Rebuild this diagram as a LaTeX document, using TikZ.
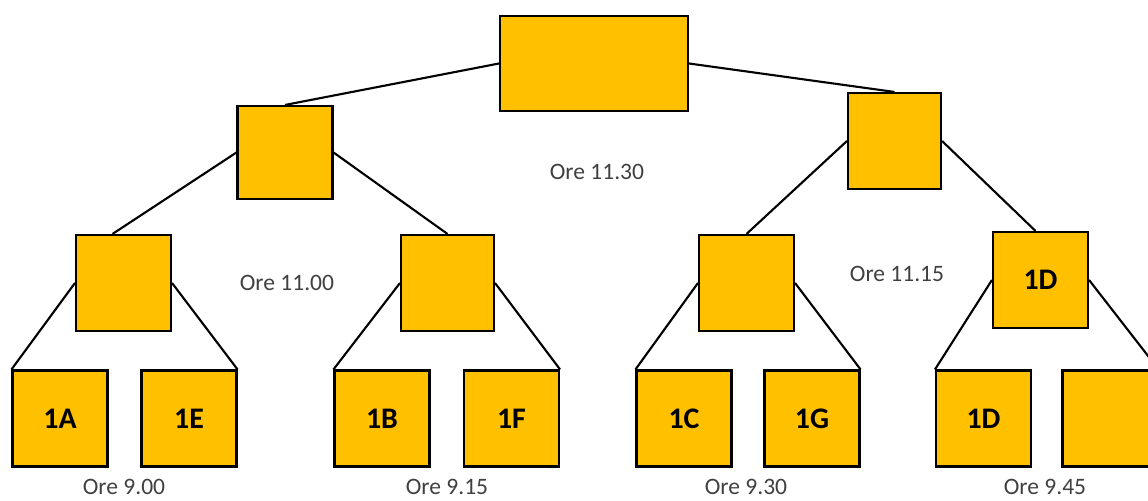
\documentclass[tikz,border=0pt]{standalone}
\usepackage{fontspec}
\setmainfont{Carlito}
\definecolor{gold}{HTML}{FFC000}
\definecolor{oretext}{HTML}{404040}
\tikzset{
  box/.style={draw=black, line width=1.2pt, fill=gold, inner sep=0pt,
    minimum width=1.9cm, minimum height=1.92cm,
    font=\fontsize{17}{20}\selectfont\bfseries},
  ora/.style={text=oretext, inner sep=1pt, font=\fontsize{13.4}{16}\selectfont},
  link/.style={line width=1.2pt}
}
\begin{document}
\begin{tikzpicture}[x=0.02cm,y=-0.02cm]

        \useasboundingbox (0,0) rectangle (1148,500);
        \clip (0,0) rectangle (1148,500);

        % levels of the tree
        \node[box, minimum width=3.76cm, minimum height=1.9cm] (top) at (594,63.5) {};
        \node[box, minimum height=1.86cm] (l1) at (285,152.5) {};
        \node[box, minimum width=1.86cm] (r1) at (894.5,141) {};
        \node[box] (a) at (123.5,283) {};
        \node[box, minimum width=1.86cm] (b) at (447.5,283) {};
        \node[box] (c) at (746.5,283) {};
        \node[box] (d) at (1040.5,280) {1D};
        \node[box] (aa) at (60,418.5) {1A};
        \node[box] (ae) at (189,418.5) {1E};
        \node[box] (bb) at (382,418.5) {1B};
        \node[box] (bf) at (511.5,418.5) {1F};
        \node[box] (cc) at (684,418.5) {1C};
        \node[box] (cg) at (812,418.5) {1G};
        \node[box] (dd) at (983.5,418.5) {1D};
        \node[box] (dx) at (1110,418.5) {};

        \draw[link] (top.west) -- (l1.north); \draw[link] (top.east) -- (r1.north);
        \draw[link] (l1.west) -- ([xshift=-0.22cm]a.north); \draw[link] (l1.east) -- (b.north);
        \draw[link] (r1.west) -- (c.north); \draw[link] (r1.east) -- ([xshift=-0.1cm]d.north);
        \draw[link] (a.west) -- (aa.north west); \draw[link] (a.east) -- (ae.north east);
        \draw[link] (b.west) -- (bb.north west); \draw[link] (b.east) -- (bf.north east);
        \draw[link] (c.west) -- (cc.north west); \draw[link] (c.east) -- (cg.north east);
        \draw[link] (d.west) -- (dd.north west); \draw[link] (d.east) -- (dx.north east);

        \node[ora] (o1130) at (597,172) {Ore 11.30};
        \node[ora] (o1100) at (287,283) {Ore 11.00};
        \node[ora] (o1115) at (897,274) {Ore 11.15};
        \node[ora] (o900) at (124,487) {Ore 9.00};
        \node[ora] (o915) at (447,487) {Ore 9.15};
        \node[ora] (o930) at (746,487) {Ore 9.30};
        \node[ora] (o945) at (1045,487) {Ore 9.45};

    \end{tikzpicture}
\end{document}
